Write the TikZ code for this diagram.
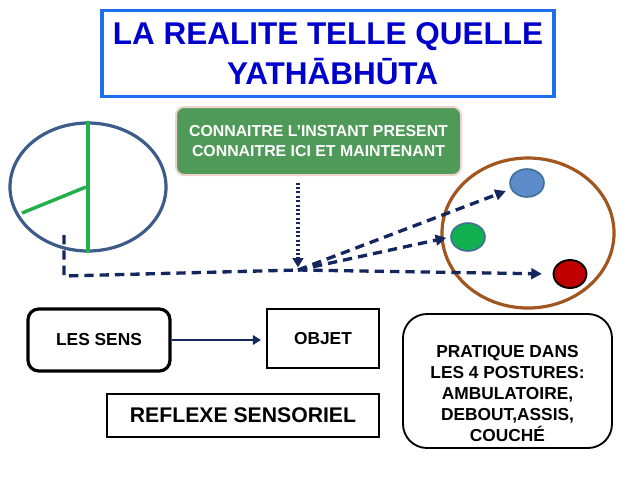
\documentclass[tikz,border=0pt]{standalone}
\usepackage{fontspec}
\setmainfont{Liberation Sans}
\usetikzlibrary{arrows.meta,shapes.geometric}
\definecolor{titleblue}{HTML}{1D6FF2}
\definecolor{titletext}{HTML}{0000CC}
\definecolor{gfill}{HTML}{4F9A58}
\definecolor{gborder}{HTML}{F0D4CC}
\definecolor{navy}{HTML}{14265E}
\definecolor{eyeblue}{HTML}{3E5C8A}
\definecolor{lgreen}{HTML}{22B04B}
\definecolor{brown1}{HTML}{A0561E}
\definecolor{cblue}{HTML}{5B8BC9}
\definecolor{cblueb}{HTML}{41709C}
\definecolor{cgreen}{HTML}{10B050}
\definecolor{cred}{HTML}{C00000}
\begin{document}
\begin{tikzpicture}[x=0.75pt,y=-0.75pt,
  conn/.style={draw=navy, line width=2.5pt, dash pattern=on 7pt off 4.5pt,
    -{Triangle[length=8pt,width=8pt]}},
  plain/.style={draw=navy, line width=2.5pt, dash pattern=on 7pt off 4.5pt},
  btext/.style={font=\bfseries\fontsize{13}{15.6}\selectfont, align=center},
  box/.style={draw=black, line width=1.1pt, inner sep=0pt}]
\useasboundingbox (0,0) rectangle (640,480);
% title
\node[draw=titleblue, line width=2.4pt, minimum width=452*0.75pt, minimum height=86*0.75pt,
  inner sep=0pt, text=titletext, align=center,
  font=\bfseries\fontsize{23.6}{29.5}\selectfont] (title) at (328,53.5)
  {LA REALITE TELLE QUELLE\\ \hspace*{7pt}YATHĀBHŪTA};
% green box
\node[draw=gborder, fill=gfill, line width=1.5pt, rounded corners=6pt,
  minimum width=285*0.75pt, minimum height=68*0.75pt, inner sep=0pt,
  text=white, align=center, font=\bfseries\fontsize{11.9}{15}\selectfont] (gbox) at (318.5,141)
  {CONNAITRE L’INSTANT PRESENT\\CONNAITRE ICI ET MAINTENANT};
% left ellipse
\node[ellipse, draw=eyeblue, line width=2.4pt, minimum width=156*0.75pt,
  minimum height=128*0.75pt, inner sep=0pt] (eye) at (88,187) {};
\coordinate (g1) at (86,187);
\coordinate (g2) at (22,213);
\draw[lgreen, line width=2.6pt] (eye.north) -- (eye.south);
\draw[lgreen, line width=2.6pt] (g1) -- (g2);
% right ellipse and circles
\node[ellipse, draw=brown1, line width=2.4pt, minimum width=172*0.75pt,
  minimum height=150*0.75pt, inner sep=0pt] (field) at (528,233) {};
\node[ellipse, draw=cblueb, fill=cblue, line width=1.2pt, minimum width=34*0.75pt,
  minimum height=28*0.75pt, inner sep=0pt] (cb) at (527,183) {};
\node[ellipse, draw=cblueb, fill=cgreen, line width=1.2pt, minimum width=34*0.75pt,
  minimum height=28*0.75pt, inner sep=0pt] (cg) at (468,237) {};
\node[ellipse, draw=black, fill=cred, line width=1.4pt, minimum width=33*0.75pt,
  minimum height=28*0.75pt, inner sep=0pt] (cr) at (570,274) {};
% dashed connectors
\coordinate (d0) at (64,235);
\coordinate (d1) at (64,276);
\coordinate (hub) at (298,270);
\draw[plain] (d0) -- (d1) -- (hub);
\draw[conn, shorten >=4pt] (hub) -- (cb);
\draw[conn, shorten >=3pt] (hub) -- (cg.west);
\draw[conn, shorten >=8pt] (hub) -- (cr.west);
\draw[draw=navy, line width=2.6pt, dash pattern=on 1.5pt off 1.8pt,
  -{Triangle[length=7pt,width=8pt]}, shorten <=5pt, shorten >=2pt]
  (gbox.south -| hub) -- (hub);
% bottom boxes
\node[draw=black, line width=2.4pt, rounded corners=8pt, minimum width=142*0.75pt,
  minimum height=62*0.75pt, inner sep=0pt, btext] (sens) at (99,340) {LES SENS};
\node[box, minimum width=112*0.75pt, minimum height=59*0.75pt, btext] (objet) at (323,338.5) {OBJET};
\draw[navy, line width=2pt, -{Triangle[length=6pt,width=7pt]}, shorten >=4pt]
  (sens.east) -- (sens.east -| objet.west);
\node[box, minimum width=272*0.75pt, minimum height=43*0.75pt,
  font=\bfseries\fontsize{15.9}{18}\selectfont] (reflexe) at (243,415.5) {REFLEXE SENSORIEL};
\node[draw=black, line width=1.4pt, rounded corners=18pt, minimum width=209*0.75pt,
  minimum height=134*0.75pt, inner sep=0pt] (prat) at (507.5,381) {};
\node[btext] (prattext) at (507.5,393.5)
  {PRATIQUE DANS\\LES 4 POSTURES:\\AMBULATOIRE,\\DEBOUT,ASSIS,\\COUCHÉ};
\end{tikzpicture}
\end{document}
